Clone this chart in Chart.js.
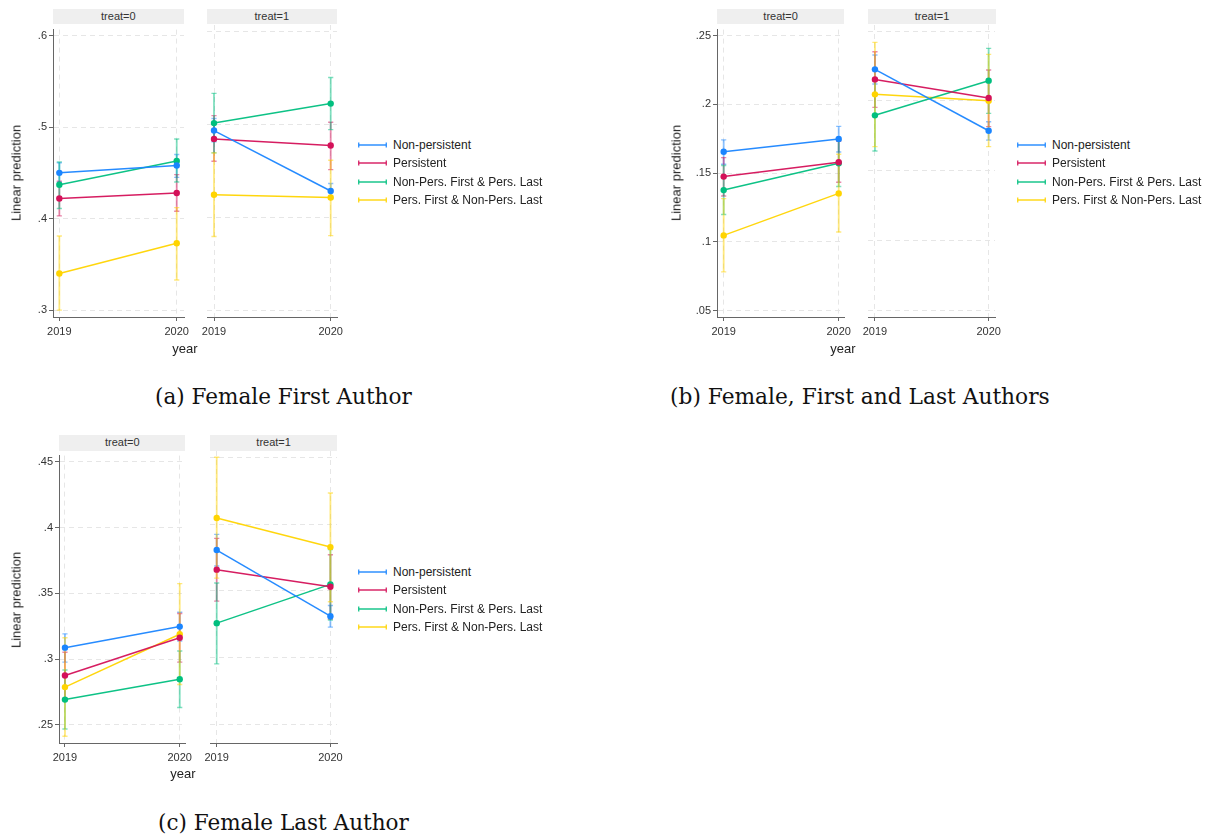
<!DOCTYPE html>
<html><head><meta charset="utf-8">
<script src="https://cdn.jsdelivr.net/npm/chart.js@4/dist/chart.umd.min.js"></script>
<style>
html,body{margin:0;padding:0;background:#fff;}
#root{position:relative;width:1216px;height:838px;overflow:hidden;font-family:"Liberation Sans",Arial,sans-serif;color:#333;}
canvas{position:absolute;}
.hdr{position:absolute;background:#efefef;font-size:11px;text-align:center;color:#333;box-sizing:border-box;}
.lbl{position:absolute;font-size:13px;color:#222;white-space:nowrap;transform:translate(-50%,-50%);}
.ylab{transform:translate(-50%,-50%) rotate(-90deg);}
.leg{position:absolute;font-size:12px;color:#222;white-space:nowrap;line-height:14px;}
.cap{position:absolute;font-family:"DejaVu Serif",serif;white-space:nowrap;color:#111;line-height:1;}
</style></head><body><div id="root"></div>
<script>
// ---------------- DATA ----------------
const years = [2019, 2020];
const panels = ["treat=0", "treat=1"];
const seriesNames = ["Non-persistent", "Persistent", "Non-Pers. First & Pers. Last", "Pers. First & Non-Pers. Last"];
const ticksA = [0.3, 0.4, 0.5, 0.6];
const ticksB = [0.05, 0.1, 0.15, 0.2, 0.25];
const ticksC = [0.25, 0.3, 0.35, 0.4, 0.45];
// values ordered: treat=0 2019, treat=0 2020, treat=1 2019, treat=1 2020
// (a) Female First Author
const A_np    = [0.450, 0.458, 0.493, 0.428];
const A_np_lo = [0.440, 0.445, 0.481, 0.420];
const A_np_hi = [0.461, 0.470, 0.506, 0.436];
const A_p     = [0.422, 0.428, 0.484, 0.477];
const A_p_lo  = [0.403, 0.408, 0.460, 0.451];
const A_p_hi  = [0.441, 0.448, 0.509, 0.502];
const A_npfpl    = [0.437, 0.463, 0.501, 0.522];
const A_npfpl_lo = [0.411, 0.440, 0.469, 0.494];
const A_npfpl_hi = [0.462, 0.487, 0.533, 0.550];
const A_pfnpl    = [0.340, 0.373, 0.424, 0.421];
const A_pfnpl_lo = [0.300, 0.333, 0.379, 0.380];
const A_pfnpl_hi = [0.381, 0.412, 0.469, 0.461];
// (b) Female, First and Last Authors
const B_np    = [0.1656, 0.1749, 0.2226, 0.1787];
const B_np_lo = [0.1565, 0.1654, 0.2121, 0.1720];
const B_np_hi = [0.1742, 0.1840, 0.2328, 0.1851];
const B_p     = [0.1475, 0.1580, 0.2154, 0.2021];
const B_p_lo  = [0.1334, 0.1434, 0.1954, 0.1816];
const B_p_hi  = [0.1613, 0.1732, 0.2352, 0.2221];
const B_npfpl    = [0.1377, 0.1572, 0.1897, 0.2145];
const B_npfpl_lo = [0.1200, 0.1403, 0.1642, 0.1911];
const B_npfpl_hi = [0.1556, 0.1740, 0.2150, 0.2376];
const B_pfnpl    = [0.1048, 0.1353, 0.2047, 0.2002];
const B_pfnpl_lo = [0.0783, 0.1072, 0.1673, 0.1673];
const B_pfnpl_hi = [0.1315, 0.1637, 0.2419, 0.2333];
// (c) Female Last Author
const C_np    = [0.3087, 0.3247, 0.3806, 0.3311];
const C_np_lo = [0.2977, 0.3137, 0.3686, 0.3229];
const C_np_hi = [0.3192, 0.3356, 0.3923, 0.3391];
const C_p     = [0.2875, 0.3162, 0.3659, 0.3531];
const C_p_lo  = [0.2700, 0.2977, 0.3424, 0.3290];
const C_p_hi  = [0.3052, 0.3346, 0.3893, 0.3771];
const C_npfpl    = [0.2692, 0.2847, 0.3259, 0.3549];
const C_npfpl_lo = [0.2468, 0.2632, 0.2954, 0.3282];
const C_npfpl_hi = [0.2917, 0.3062, 0.3559, 0.3810];
const C_pfnpl    = [0.2787, 0.3189, 0.4046, 0.3828];
const C_pfnpl_lo = [0.2413, 0.2807, 0.3596, 0.3419];
const C_pfnpl_hi = [0.3162, 0.3574, 0.4500, 0.4233];
const captions = ["(a) Female First Author", "(b) Female, First and Last Authors", "(c) Female Last Author"];

// ---------------- STYLE ----------------
const colors = [[26,133,255],[212,17,89],[0,191,127],[255,212,0]];
const rgba = (c,a) => `rgba(${c[0]},${c[1]},${c[2]},${a})`;
const root = document.getElementById('root');

const errPlugin = {
  id: 'errbars',
  beforeDatasetsDraw(chart) {
    const ctx = chart.ctx, xs = chart.scales.x, ys = chart.scales.y;
    chart.data.datasets.forEach(ds => {
      ds.lo.forEach((lo, i) => {
        const x = xs.getPixelForValue(ds.data[i].x);
        const y1 = ys.getPixelForValue(lo), y2 = ys.getPixelForValue(ds.hi[i]);
        ctx.save();
        ctx.strokeStyle = ds.ciColor;
        ctx.lineWidth = 1.8;
        ctx.beginPath(); ctx.moveTo(x, y1); ctx.lineTo(x, y2); ctx.stroke();
        ctx.lineWidth = 1.4;
        ctx.beginPath();
        ctx.moveTo(x - 2.6, y1); ctx.lineTo(x + 2.6, y1);
        ctx.moveTo(x - 2.6, y2); ctx.lineTo(x + 2.6, y2);
        ctx.stroke();
        ctx.restore();
      });
    });
  }
};

const fmt = v => String(Math.round(v * 100) / 100).replace(/^0/, '');

function makePanel(box, xr, yr, yTicks, showY, series, half) {
  const ml = showY ? 50 : 20, mt = 4, mr = 20, mb = 32;
  const W = Math.round(box.R - box.L + ml + mr), H = Math.round(box.B - box.T + mt + mb);
  const cv = document.createElement('canvas');
  cv.width = W; cv.height = H;
  cv.style.left = (box.L - ml) + 'px'; cv.style.top = (box.T - mt) + 'px';
  cv.style.width = W + 'px'; cv.style.height = H + 'px';
  root.appendChild(cv);
  const datasets = series.map((s, k) => ({
    label: seriesNames[k],
    data: years.map((yr_, i) => ({ x: yr_, y: s.est[half * 2 + i] })),
    lo: s.lo.slice(half * 2, half * 2 + 2),
    hi: s.hi.slice(half * 2, half * 2 + 2),
    borderColor: rgba(colors[k], 0.95),
    backgroundColor: rgba(colors[k], 1),
    ciColor: rgba(colors[k], 0.5),
    borderWidth: 1.5,
    pointRadius: 3.2,
    pointBorderWidth: 0,
    pointBackgroundColor: rgba(colors[k], 1),
    tension: 0
  }));
  const gridCol = '#e6e6e6';
  new Chart(cv, {
    type: 'line',
    data: { datasets },
    plugins: [errPlugin],
    options: {
      responsive: false, animation: false, devicePixelRatio: 1,
      layout: { padding: { left: showY ? 0 : ml, top: mt, right: mr, bottom: 0 } },
      plugins: { legend: { display: false }, tooltip: { enabled: false } },
      scales: {
        x: {
          type: 'linear', min: xr[0], max: xr[1],
          afterBuildTicks: s => { s.ticks = years.map(v => ({ value: v })); },
          afterFit: s => { s.height = mb; },
          ticks: { font: { family: 'Liberation Sans', size: 11 }, color: '#333', padding: 4, autoSkip: false, maxRotation: 0, callback: v => String(v) },
          grid: { color: gridCol, lineWidth: 1, tickLength: 4, tickColor: '#666', tickWidth: 1 },
          border: { display: true, color: '#666', width: 1, dash: [5, 4] }
        },
        y: {
          type: 'linear', min: yr[0], max: yr[1],
          afterBuildTicks: s => { s.ticks = yTicks.map(v => ({ value: v })); },
          afterFit: s => { s.width = showY ? ml : 0; },
          ticks: { display: showY, font: { family: 'Liberation Sans', size: 11 }, color: '#333', padding: 2, callback: v => fmt(v) },
          grid: { color: gridCol, lineWidth: 1, drawTicks: showY, tickLength: 4, tickColor: '#666', tickWidth: 1 },
          border: { display: showY, color: '#666', width: 1, dash: [5, 4] }
        }
      }
    }
  });
}

function header(text, L, R, T, B) {
  const d = document.createElement('div');
  d.className = 'hdr'; d.textContent = text;
  d.style.left = L + 'px'; d.style.top = T + 'px';
  d.style.width = (R - L) + 'px'; d.style.height = (B - T) + 'px';
  d.style.lineHeight = (B - T) + 'px';
  root.appendChild(d);
}
function label(text, x, y, cls) {
  const d = document.createElement('div');
  d.className = 'lbl' + (cls ? ' ' + cls : ''); d.textContent = text;
  d.style.left = x + 'px'; d.style.top = y + 'px';
  root.appendChild(d);
}
function legend(x, y0, dy) {
  seriesNames.forEach((n, k) => {
    const y = y0 + k * dy;
    const d = document.createElement('div');
    d.className = 'leg';
    d.style.left = x + 'px'; d.style.top = (y - 7) + 'px';
    const c = rgba(colors[k], 0.85);
    d.innerHTML = `<svg width="29" height="14" style="vertical-align:top;margin-right:6px"><line x1="0.7" y1="7" x2="28.3" y2="7" stroke="${c}" stroke-width="1.6"/><line x1="0.7" y1="4.5" x2="0.7" y2="9.5" stroke="${c}" stroke-width="1.4"/><line x1="28.3" y1="4.5" x2="28.3" y2="9.5" stroke="${c}" stroke-width="1.4"/></svg><span>${n}</span>`;
    root.appendChild(d);
  });
}
function caption(text, L, R, cy) {
  const d = document.createElement('div');
  d.className = 'cap'; d.textContent = text; d.style.fontSize = '20px';
  root.appendChild(d);
  const w = d.getBoundingClientRect().width;
  const fs = 20 * (R - L) / w;
  d.style.fontSize = fs + 'px';
  const h = d.getBoundingClientRect().height;
  d.style.left = L + 'px'; d.style.top = (cy - h / 2) + 'px';
}

const seriesA = [
  { est: A_np, lo: A_np_lo, hi: A_np_hi }, { est: A_p, lo: A_p_lo, hi: A_p_hi },
  { est: A_npfpl, lo: A_npfpl_lo, hi: A_npfpl_hi }, { est: A_pfnpl, lo: A_pfnpl_lo, hi: A_pfnpl_hi }];
const seriesB = [
  { est: B_np, lo: B_np_lo, hi: B_np_hi }, { est: B_p, lo: B_p_lo, hi: B_p_hi },
  { est: B_npfpl, lo: B_npfpl_lo, hi: B_npfpl_hi }, { est: B_pfnpl, lo: B_pfnpl_lo, hi: B_pfnpl_hi }];
const seriesC = [
  { est: C_np, lo: C_np_lo, hi: C_np_hi }, { est: C_p, lo: C_p_lo, hi: C_p_hi },
  { est: C_npfpl, lo: C_npfpl_lo, hi: C_npfpl_hi }, { est: C_pfnpl, lo: C_pfnpl_lo, hi: C_pfnpl_hi }];

// (a)
header(panels[0], 52.7, 184, 9, 24.3); header(panels[1], 206.7, 337, 9, 24.3);
makePanel({ L: 53, T: 25, R: 184, B: 317 }, [2018.946, 2020.062], [0.2925, 0.6065], ticksA, true, seriesA, 0);
makePanel({ L: 206.7, T: 25, R: 337, B: 317 }, [2018.940, 2020.054], [0.2925, 0.6065], ticksA, false, seriesA, 1);
label('Linear prediction', 16, 173, 'ylab'); label('year', 185, 348);
legend(358, 145, 18.3);
caption(captions[0], 155, 412, 397);

// (b)
header(panels[0], 717.3, 844, 9, 24.3); header(panels[1], 868.3, 995.7, 9, 24.3);
makePanel({ L: 717.3, T: 25, R: 844, B: 317 }, [2018.942, 2020.046], [0.0455, 0.2543], ticksB, true, seriesB, 0);
makePanel({ L: 868.3, T: 25, R: 995.7, B: 317 }, [2018.939, 2020.056], [0.0455, 0.2543], ticksB, false, seriesB, 1);
label('Linear prediction', 676, 173, 'ylab'); label('year', 843, 348);
legend(1017, 145, 18.3);
caption(captions[1], 670, 1050, 397);

// (c)
header(panels[0], 59.3, 185.3, 435, 450.7); header(panels[1], 210, 337.3, 435, 450.7);
makePanel({ L: 59.3, T: 451, R: 185.3, B: 742.7 }, [2018.948, 2020.046], [0.2362, 0.4547], ticksC, true, seriesC, 0);
makePanel({ L: 210, T: 451, R: 337.3, B: 742.7 }, [2018.941, 2020.058], [0.2362, 0.4547], ticksC, false, seriesC, 1);
label('Linear prediction', 16, 600, 'ylab'); label('year', 183, 773);
legend(358, 572, 18.3);
caption(captions[2], 158, 409, 823);
</script></body></html>
